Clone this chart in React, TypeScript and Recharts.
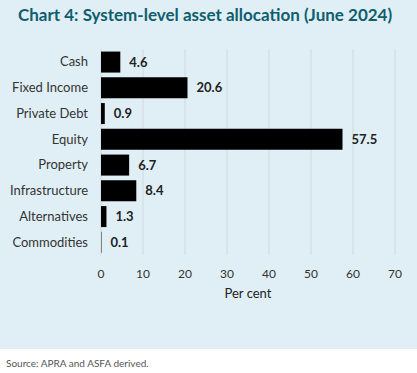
import React from 'react';
import { BarChart, Bar, XAxis, YAxis, CartesianGrid, LabelList } from 'recharts';

const categories = ['Cash', 'Fixed Income', 'Private Debt', 'Equity', 'Property', 'Infrastructure', 'Alternatives', 'Commodities'];
const values = [4.6, 20.6, 0.9, 57.5, 6.7, 8.4, 1.3, 0.1];
const xTicks = [0, 10, 20, 30, 40, 50, 60, 70];

const data = categories.map((name, i) => ({ name, value: values[i] }));

const FONT = 'Lato, "Open Sans", sans-serif';

export default function App() {
  return (
    <div style={{ position: 'absolute', left: 0, top: 0, width: 417, height: 373, background: '#ffffff', fontFamily: FONT }}>
      <div style={{ position: 'absolute', left: 0, top: 0, width: 417, height: 349, background: '#e0eff5' }} />
      <div style={{ position: 'absolute', left: 18, top: 4, fontSize: 17, fontWeight: 700, color: '#0f5d6d', whiteSpace: 'nowrap' }}>
        Chart 4: System-level asset allocation (June 2024)
      </div>
      <div style={{ position: 'absolute', left: 0, top: 0 }}>
        <BarChart
          width={417}
          height={310}
          data={data}
          layout="vertical"
          margin={{ top: 49, right: 22, left: 0, bottom: 0 }}
          barCategoryGap="10%"
        >
          <CartesianGrid horizontal={false} vertical={true} stroke="#cfd9de" strokeWidth={1} />
          <XAxis
            type="number"
            domain={[0, 70]}
            ticks={xTicks}
            interval={0}
            axisLine={false}
            tickLine={false}
            tickSize={0}
            tickMargin={14}
            height={55}
            tick={{ fill: '#333', fontSize: 12, fontFamily: FONT }}
            label={{ value: 'Per cent', position: 'insideBottom', offset: 12, fill: '#222', fontSize: 13, fontFamily: FONT }}
          />
          <YAxis
            type="category"
            dataKey="name"
            width={101}
            axisLine={false}
            tickLine={false}
            tickSize={0}
            tickMargin={13}
            interval={0}
            tick={{ fill: '#333', fontSize: 13, fontFamily: FONT }}
          />
          <Bar dataKey="value" fill="#000000" isAnimationActive={false}>
            <LabelList dataKey="value" position="right" offset={9} fill="#222" fontSize={13} fontWeight={700} fontFamily={FONT} />
          </Bar>
        </BarChart>
      </div>
      <div style={{ position: 'absolute', left: 6, top: 357, fontSize: 10, color: '#555', whiteSpace: 'nowrap' }}>
        Source: APRA and ASFA derived.
      </div>
    </div>
  );
}
